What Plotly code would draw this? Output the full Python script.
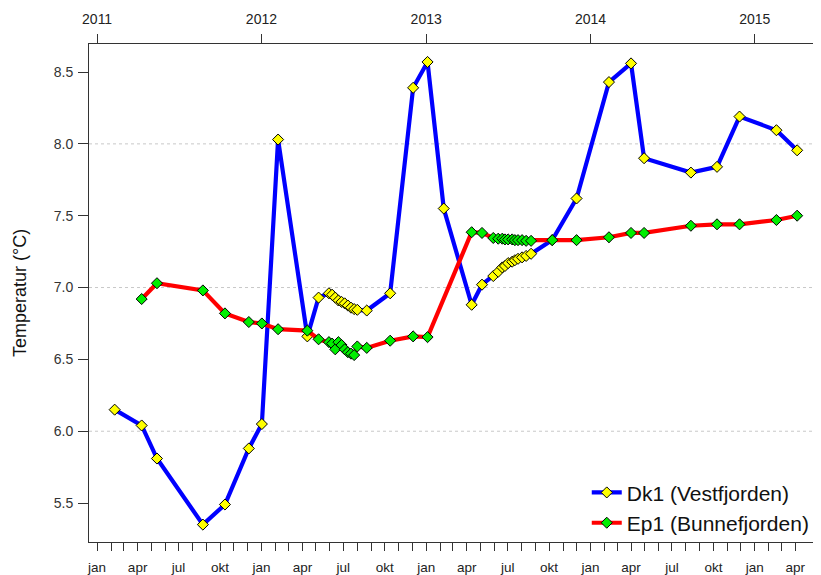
import pandas as pd
import plotly.graph_objects as go

# ---------------- data ----------------
dk1_dates = [
    '2011-02-09', '2011-04-10', '2011-05-14', '2011-08-24', '2011-10-12', '2011-12-04',
    '2012-01-02', '2012-02-07', '2012-04-12', '2012-05-07',
    '2012-05-30', '2012-06-06', '2012-06-13', '2012-06-20', '2012-06-27', '2012-07-04',
    '2012-07-11', '2012-07-18', '2012-07-25', '2012-08-01', '2012-08-22',
    '2012-10-13', '2012-12-03', '2013-01-04', '2013-02-09', '2013-04-12', '2013-05-05',
    '2013-05-30', '2013-06-10', '2013-06-19', '2013-06-25', '2013-07-02', '2013-07-11',
    '2013-07-17', '2013-07-24', '2013-08-02', '2013-08-11', '2013-08-22',
    '2013-10-08', '2013-12-01', '2014-02-11', '2014-04-01', '2014-04-30', '2014-08-12',
    '2014-10-09', '2014-11-28', '2015-02-18', '2015-04-05',
]
dk1_values = [
    6.15, 6.04, 5.81, 5.35, 5.49, 5.88,
    6.05, 8.03, 6.66, 6.93,
    6.96, 6.95, 6.93, 6.91, 6.90, 6.89,
    6.875, 6.86, 6.85, 6.845, 6.84,
    6.96, 8.39, 8.57, 7.55, 6.88, 7.02,
    7.08, 7.11, 7.14, 7.15, 7.17, 7.18,
    7.19, 7.20, 7.21, 7.22, 7.235,
    7.33, 7.62, 8.43, 8.56, 7.90, 7.80,
    7.84, 8.19, 8.095, 7.955,
]

ep1_dates = [
    '2011-04-10', '2011-05-14', '2011-08-24', '2011-10-12', '2011-12-04',
    '2012-01-02', '2012-02-07', '2012-04-12', '2012-05-07',
    '2012-05-30', '2012-06-06', '2012-06-13', '2012-06-20', '2012-06-27', '2012-07-04',
    '2012-07-11', '2012-07-18', '2012-07-25', '2012-08-01', '2012-08-22',
    '2012-10-13', '2012-12-03', '2013-01-04', '2013-04-12', '2013-05-05',
    '2013-05-30', '2013-06-10', '2013-06-19', '2013-06-25', '2013-07-02', '2013-07-11',
    '2013-07-17', '2013-07-24', '2013-08-02', '2013-08-11', '2013-08-22',
    '2013-10-08', '2013-12-01', '2014-02-11', '2014-04-01', '2014-04-30', '2014-08-12',
    '2014-10-09', '2014-11-28', '2015-02-18', '2015-04-05',
]
ep1_values = [
    6.92, 7.03, 6.98, 6.82, 6.76,
    6.75, 6.71, 6.70, 6.64,
    6.62, 6.61, 6.57, 6.62, 6.60, 6.57,
    6.55, 6.54, 6.53, 6.59, 6.58,
    6.63, 6.66, 6.655, 7.385, 7.38,
    7.345, 7.34, 7.34, 7.335, 7.335, 7.335,
    7.33, 7.33, 7.33, 7.325, 7.325,
    7.33, 7.33, 7.35, 7.38, 7.38, 7.43,
    7.44, 7.44, 7.47, 7.50,
]

series_names = ['Dk1 (Vestfjorden)', 'Ep1 (Bunnefjorden)']
year_ticks = ['2011', '2012', '2013', '2014', '2015']
month_labels = ['jan', '', '', 'apr', '', '', 'jul', '', '', 'okt', '', '']
y_ticks = [5.5, 6.0, 6.5, 7.0, 7.5, 8.0, 8.5]
y_grid = [6.0, 7.0, 8.0]

# ---------------- figure ----------------
FONT = 'Liberation Sans, Arial, sans-serif'
AX = '#333333'

month_vals = pd.date_range('2011-01-01', '2015-04-01', freq='MS')
month_text = [month_labels[d.month - 1] for d in month_vals]
month_vals = [d.strftime('%Y-%m-%d') for d in month_vals]
year_vals = [f'{y}-01-01' for y in year_ticks]

x_range = ['2010-12-14', '2015-05-28']
y_range = [5.229, 8.695]

fig = go.Figure()
fig.add_trace(go.Scatter(
    x=dk1_dates, y=dk1_values, name=series_names[0], mode='lines+markers',
    line=dict(color='#0000FF', width=4.2),
    marker=dict(symbol='diamond', size=8.5, color='#FFFF00', line=dict(color='black', width=1)),
))
fig.add_trace(go.Scatter(
    x=ep1_dates, y=ep1_values, name=series_names[1], mode='lines+markers',
    line=dict(color='#FF0000', width=4.2),
    marker=dict(symbol='diamond', size=8.5, color='#00EE00', line=dict(color='black', width=1)),
))
# dummy trace so the top (year) axis is drawn
fig.add_trace(go.Scatter(x=[year_vals[0]], y=[None], xaxis='x2', showlegend=False,
                         hoverinfo='skip', mode='markers'))

for g in y_grid:
    fig.add_shape(type='line', xref='paper', x0=0, x1=1, yref='y', y0=g, y1=g,
                  line=dict(color='#C8C8C8', width=1, dash='dot'), layer='below')

# the page body has an 8px default margin; size the figure so the plot lands where it should
fig.update_layout(
    width=813, height=567,
    margin=dict(l=81, r=0, t=36, b=33),
    paper_bgcolor='white', plot_bgcolor='white',
    font=dict(family=FONT, color='#222222', size=13),
    showlegend=True,
    legend=dict(x=0.68, y=0.14, xanchor='left', yanchor='top',
                font=dict(size=21, color='#111111', family=FONT),
                bgcolor='rgba(0,0,0,0)', itemwidth=30, tracegroupgap=0),
    xaxis=dict(
        type='date', range=x_range, tickmode='array', tickvals=month_vals, ticktext=month_text,
        ticks='outside', ticklen=8, tickcolor=AX, tickwidth=1, automargin=False,
        showline=True, linecolor=AX, linewidth=1, showgrid=False, zeroline=False,
        tickfont=dict(size=13.5, color='#222222'), tickangle=0, ticklabelstandoff=5,
    ),
    xaxis2=dict(
        type='date', range=x_range, overlaying='x', side='top', anchor='y',
        tickmode='array', tickvals=year_vals, ticktext=year_ticks, automargin=False,
        ticks='outside', ticklen=9, tickcolor=AX, tickwidth=1,
        showline=True, linecolor=AX, linewidth=1, showgrid=False, zeroline=False,
        tickfont=dict(size=14, color='#222222'), ticklabelstandoff=4,
    ),
    yaxis=dict(
        range=y_range, tickmode='array', tickvals=y_ticks, automargin=False,
        ticktext=[f'{v:.1f}' for v in y_ticks],
        ticks='outside', ticklen=10, tickcolor=AX, tickwidth=1,
        showline=True, linecolor=AX, linewidth=1, showgrid=False, zeroline=False,
        tickfont=dict(size=14, color='#333333'), ticklabelstandoff=2,
        title=dict(text='Temperatur (°C)', font=dict(size=18, color='#111111'), standoff=22),
    ),
)

fig.write_html('out.html')
